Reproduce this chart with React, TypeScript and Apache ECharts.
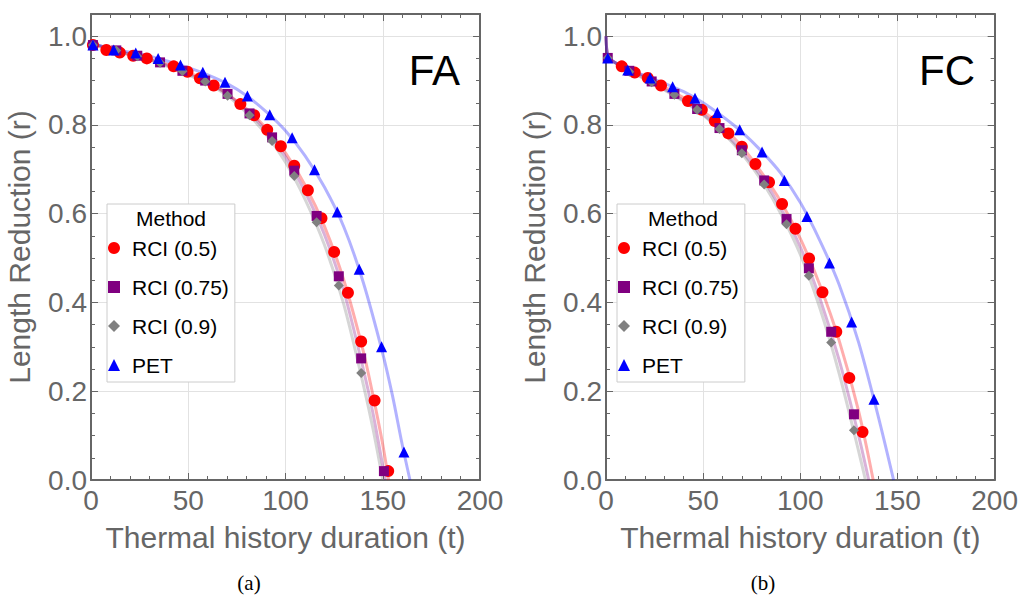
import React, { useEffect, useRef } from "react";
import * as echarts from "echarts";

const FONT = "'Liberation Sans', Arial, Helvetica, sans-serif";
const SERIF = "'Liberation Serif', 'Times New Roman', serif";
const AXIS_COLOR = "#666666";

const methods = ["RCI (0.5)", "RCI (0.75)", "RCI (0.9)", "PET"];
const methodSymbols = ["circle", "rect", "diamond", "triangle"];
const methodColors = ["#ff0000", "#800080", "#808080", "#0000ff"];
const fitColors = [
  "rgba(255,0,0,0.32)",
  "rgba(128,0,128,0.3)",
  "rgba(128,128,128,0.32)",
  "rgba(0,0,255,0.3)",
];
const markerSizes = [12, 10, 10, 11];

const xTitle = "Thermal history duration (t)";
const yTitle = "Length Reduction (r)";
const panelLabels = ["FA", "FC"];
const captions = ["(a)", "(b)"];

// ---- Panel (a) FA : measured points ----
const faRci05 = [
  [1, 0.98], [7.9, 0.969], [14.8, 0.963], [21.7, 0.956], [28.7, 0.95],
  [42.5, 0.932], [49.6, 0.92], [56.0, 0.905], [63.1, 0.889], [76.8, 0.847],
  [83.9, 0.822], [90.6, 0.789], [97.6, 0.752], [104.5, 0.708], [111.5, 0.653],
  [118.5, 0.59], [125.0, 0.514], [132.1, 0.422], [138.9, 0.312], [145.8, 0.179],
  [152.8, 0.02],
];
const faRci075 = [
  [1.0, 0.98], [13.0, 0.968], [23.8, 0.956], [35.5, 0.941], [47.0, 0.922],
  [58.7, 0.9], [70.2, 0.87], [81.5, 0.826], [93.1, 0.772], [104.5, 0.697],
  [116.0, 0.595], [127.4, 0.459], [138.9, 0.274], [150.6, 0.02],
];
const faRci09 = [
  [1.0, 0.98], [13.0, 0.968], [23.8, 0.955], [35.5, 0.94], [47.0, 0.921],
  [58.7, 0.898], [70.2, 0.866], [81.5, 0.822], [93.1, 0.764], [104.5, 0.685],
  [116.0, 0.581], [127.4, 0.438], [138.9, 0.241],
];
const faPet = [
  [1.0, 0.98], [11.7, 0.969], [23.0, 0.962], [34.5, 0.95], [46.0, 0.935],
  [57.5, 0.919], [68.9, 0.896], [80.4, 0.865], [91.9, 0.823], [103.4, 0.771],
  [114.9, 0.699], [126.6, 0.604], [137.9, 0.475], [149.4, 0.3], [160.9, 0.063],
];

// ---- Panel (a) FA : fitted curves ----
const faFitRci05 = [
  [0, 0.985], [10, 0.968], [20, 0.958], [30, 0.947], [40, 0.936], [50, 0.919],
  [60, 0.897], [70, 0.87], [80, 0.836], [90, 0.793], [100, 0.737], [110, 0.665],
  [120, 0.572], [130, 0.45], [140, 0.29], [145, 0.19], [150, 0.08], [153, 0],
];
const faFitRci075 = [
  [0, 0.985], [10, 0.971], [20, 0.96], [30, 0.948], [40, 0.933], [50, 0.915],
  [60, 0.896], [70, 0.87], [80, 0.832], [90, 0.787], [100, 0.728], [110, 0.65],
  [120, 0.553], [130, 0.425], [140, 0.25], [145, 0.15], [151.3, 0],
];
const faFitRci09 = [
  [0, 0.985], [10, 0.971], [20, 0.959], [30, 0.947], [40, 0.931], [50, 0.913],
  [60, 0.893], [70, 0.866], [80, 0.827], [90, 0.779], [100, 0.716], [110, 0.633],
  [120, 0.53], [130, 0.395], [140, 0.215], [145, 0.115], [150, 0],
];
const faFitPet = [
  [0, 0.985], [10, 0.972], [20, 0.964], [30, 0.955], [40, 0.943], [50, 0.929],
  [60, 0.913], [70, 0.893], [80, 0.866], [90, 0.83], [100, 0.787], [110, 0.731],
  [120, 0.66], [130, 0.57], [140, 0.445], [150, 0.285], [155, 0.19], [160, 0.08],
  [164, 0],
];

// ---- Panel (b) FC : measured points ----
const fcRci05 = [
  [8.1, 0.932], [14.8, 0.918], [21.5, 0.906], [28.3, 0.889], [42.2, 0.854],
  [49.3, 0.834], [56.0, 0.809], [63.0, 0.781], [69.9, 0.751], [76.9, 0.712],
  [83.9, 0.671], [90.6, 0.622], [97.5, 0.566], [104.5, 0.499], [111.4, 0.423],
  [118.5, 0.334], [125.2, 0.23], [132.0, 0.108],
];
const fcRci075 = [
  [0.9, 0.951], [12.0, 0.922], [23.5, 0.898], [35.2, 0.87], [46.9, 0.836],
  [58.4, 0.793], [69.9, 0.743], [81.4, 0.675], [92.9, 0.588], [104.4, 0.477],
  [115.9, 0.334], [127.6, 0.148],
];
const fcRci09 = [
  [0.9, 0.951], [12.0, 0.92], [23.5, 0.896], [35.2, 0.868], [46.9, 0.834],
  [58.4, 0.791], [69.9, 0.736], [81.4, 0.666], [92.9, 0.576], [104.4, 0.46],
  [115.9, 0.31], [127.6, 0.112],
];
const fcPet = [
  [0.9, 0.951], [11.2, 0.924], [22.7, 0.906], [34.3, 0.886], [45.8, 0.86],
  [57.3, 0.828], [68.8, 0.789], [80.3, 0.739], [91.8, 0.675], [103.4, 0.594],
  [115.0, 0.489], [126.4, 0.356], [137.9, 0.182],
];

// ---- Panel (b) FC : fitted curves ----
const fcFitRci05 = [
  [0, 1.0], [0.5, 0.965], [1.5, 0.95], [10, 0.928], [20, 0.909], [30, 0.886],
  [40, 0.861], [50, 0.831], [60, 0.795], [70, 0.751], [80, 0.693], [90, 0.627],
  [100, 0.544], [110, 0.44], [120, 0.314], [130, 0.155], [137.5, 0],
];
const fcFitRci075 = [
  [0, 1.0], [0.5, 0.965], [1.5, 0.95], [10, 0.928], [20, 0.905], [30, 0.881],
  [40, 0.855], [50, 0.824], [60, 0.786], [70, 0.74], [80, 0.683], [90, 0.612],
  [100, 0.525], [110, 0.41], [120, 0.27], [130, 0.1], [135.2, 0],
];
const fcFitRci09 = [
  [0, 1.0], [0.5, 0.965], [1.5, 0.95], [10, 0.927], [20, 0.903], [30, 0.879],
  [40, 0.853], [50, 0.822], [60, 0.783], [70, 0.735], [80, 0.675], [90, 0.6],
  [100, 0.508], [110, 0.388], [120, 0.24], [130, 0.065], [133.5, 0],
];
const fcFitPet = [
  [0, 1.0], [0.5, 0.965], [1.5, 0.95], [10, 0.928], [20, 0.911], [30, 0.894],
  [40, 0.875], [50, 0.85], [60, 0.819], [70, 0.784], [80, 0.741], [90, 0.691],
  [100, 0.625], [110, 0.54], [120, 0.44], [130, 0.31], [140, 0.145], [148, 0],
];

const panels = [
  { points: [faRci05, faRci075, faRci09, faPet], fits: [faFitRci05, faFitRci075, faFitRci09, faFitPet] },
  { points: [fcRci05, fcRci075, fcRci09, fcPet], fits: [fcFitRci05, fcFitRci075, fcFitRci09, fcFitPet] },
];

const X_MIN = 0;
const X_MAX = 200;
const X_INTERVAL = 50;
const Y_MIN = 0;
const Y_MAX = 1.05;
const Y_INTERVAL = 0.2;
const Y_MINOR = 0.05;

// layout
const gridLefts = [91, 606];
const GRID_TOP = 14;
const GRID_W = 389;
const GRID_H = 466;

function buildOption() {
  const frameLine = { show: true, onZero: false, lineStyle: { color: AXIS_COLOR, width: 2 } };
  const majorTick = { show: true, inside: true, length: 7, lineStyle: { color: AXIS_COLOR, width: 1 } };
  const minorTickX = { show: true, splitNumber: 5, length: 4, lineStyle: { color: AXIS_COLOR, width: 1 } };
  const minorTickY = { show: true, inside: true, length: 4, lineStyle: { color: AXIS_COLOR, width: 1 } };
  const gridLine = { show: true, lineStyle: { color: "#e2e2e2", width: 1 } };

  const xAxis: any[] = [];
  const yAxis: any[] = [];
  const grid: any[] = [];
  const series: any[] = [];
  const legend: any[] = [];
  const graphic: any[] = [];

  panels.forEach((panel, p) => {
    grid.push({ left: gridLefts[p], top: GRID_TOP, width: GRID_W, height: GRID_H, containLabel: false });
    const xBase = xAxis.length;
    const yBase = yAxis.length;
    xAxis.push({
      gridIndex: p, type: "value", position: "bottom", min: X_MIN, max: X_MAX, interval: X_INTERVAL,
      axisLine: frameLine, axisTick: majorTick, minorTick: minorTickX, splitLine: gridLine,
      axisLabel: { color: "#666", fontSize: 28, fontFamily: FONT, margin: 6 },
      name: xTitle, nameLocation: "middle", nameGap: 42,
      nameTextStyle: { color: "#666", fontSize: 30, fontFamily: FONT },
    });
    xAxis.push({
      gridIndex: p, type: "value", position: "top", min: X_MIN, max: X_MAX, interval: X_INTERVAL,
      axisLine: frameLine, axisTick: majorTick, minorTick: minorTickX, splitLine: { show: false },
      axisLabel: { show: false },
    });
    yAxis.push({
      gridIndex: p, type: "value", position: "left", min: Y_MIN, max: Y_MAX, interval: Y_INTERVAL,
      axisLine: frameLine, axisTick: majorTick, splitLine: gridLine,
      axisLabel: {
        color: "#666", fontSize: 28, fontFamily: FONT, margin: 4, showMaxLabel: false,
        formatter: (v: number) => v.toFixed(1),
      },
      name: yTitle, nameLocation: "middle", nameGap: 57,
      nameTextStyle: { color: "#666", fontSize: 30, fontFamily: FONT },
    });
    yAxis.push({
      gridIndex: p, type: "value", position: "left", min: Y_MIN, max: Y_MAX, interval: Y_MINOR,
      axisLine: { show: false, onZero: false }, axisTick: minorTickY, splitLine: { show: false },
      axisLabel: { show: false },
    });
    yAxis.push({
      gridIndex: p, type: "value", position: "right", min: Y_MIN, max: Y_MAX, interval: Y_INTERVAL,
      axisLine: frameLine, axisTick: majorTick, splitLine: { show: false }, axisLabel: { show: false },
    });
    yAxis.push({
      gridIndex: p, type: "value", position: "right", min: Y_MIN, max: Y_MAX, interval: Y_MINOR,
      axisLine: { show: false, onZero: false }, axisTick: minorTickY, splitLine: { show: false },
      axisLabel: { show: false },
    });

    // fitted curves
    panel.fits.forEach((fit, i) => {
      series.push({
        name: `fit ${panelLabels[p]} ${methods[i]}`,
        type: "line", xAxisIndex: xBase, yAxisIndex: yBase, data: fit,
        showSymbol: false, smooth: 0.3, z: 1,
        lineStyle: { color: fitColors[i], width: 3 }, silent: true,
      });
    });
    // measured points
    panel.points.forEach((pts, i) => {
      series.push({
        name: methods[i], type: "scatter", xAxisIndex: xBase, yAxisIndex: yBase, data: pts,
        symbol: methodSymbols[i], symbolSize: markerSizes[i], z: 2,
        itemStyle: { color: methodColors[i], opacity: 1 },
      });
    });

    const legendLeft = p === 0 ? 107 : 617;
    legend.push({
      orient: "vertical", left: legendLeft, top: 204,
      padding: [32, 6, 5, 1], itemGap: 15, itemWidth: 12, itemHeight: 12,
      borderColor: "#cccccc", borderWidth: 1, backgroundColor: "#ffffff",
      selectedMode: false,
      textStyle: { fontSize: 21, fontFamily: FONT, color: "#000", lineHeight: 24, padding: [0, 0, 0, 7] },
      data: methods.map((m, i) => ({ name: m, icon: methodSymbols[i], itemStyle: { color: methodColors[i] } })),
    });

    graphic.push({
      type: "text", z: 100, x: p === 0 ? 171 : 683, y: 218,
      style: {
        text: "Method", fontSize: 21, fontFamily: FONT, fill: "#000",
        textAlign: "center", align: "center", textVerticalAlign: "middle", verticalAlign: "middle",
      },
    });
    graphic.push({
      type: "text", z: 100, x: gridLefts[p] + 369, y: 70,
      style: {
        text: panelLabels[p], fontSize: 42, fontFamily: FONT, fill: "#000",
        textAlign: "right", align: "right", textVerticalAlign: "middle", verticalAlign: "middle",
      },
    });
    graphic.push({
      type: "text", z: 100, x: p === 0 ? 249 : 763, y: 583,
      style: {
        text: captions[p], fontSize: 21, fontFamily: SERIF, fill: "#000",
        textAlign: "center", align: "center", textVerticalAlign: "middle", verticalAlign: "middle",
      },
    });
  });

  return {
    animation: false,
    backgroundColor: "#ffffff",
    textStyle: { fontFamily: FONT },
    grid, xAxis, yAxis, series, legend, graphic,
  };
}

export default function App() {
  const ref = useRef<HTMLDivElement | null>(null);
  useEffect(() => {
    if (!ref.current) return;
    const chart = echarts.init(ref.current, undefined, { renderer: "svg" });
    chart.setOption(buildOption() as any);
    return () => chart.dispose();
  }, []);
  return (
    <div
      ref={ref}
      style={{ position: "absolute", left: 0, top: 0, width: 1021, height: 597, background: "#fff" }}
    />
  );
}
